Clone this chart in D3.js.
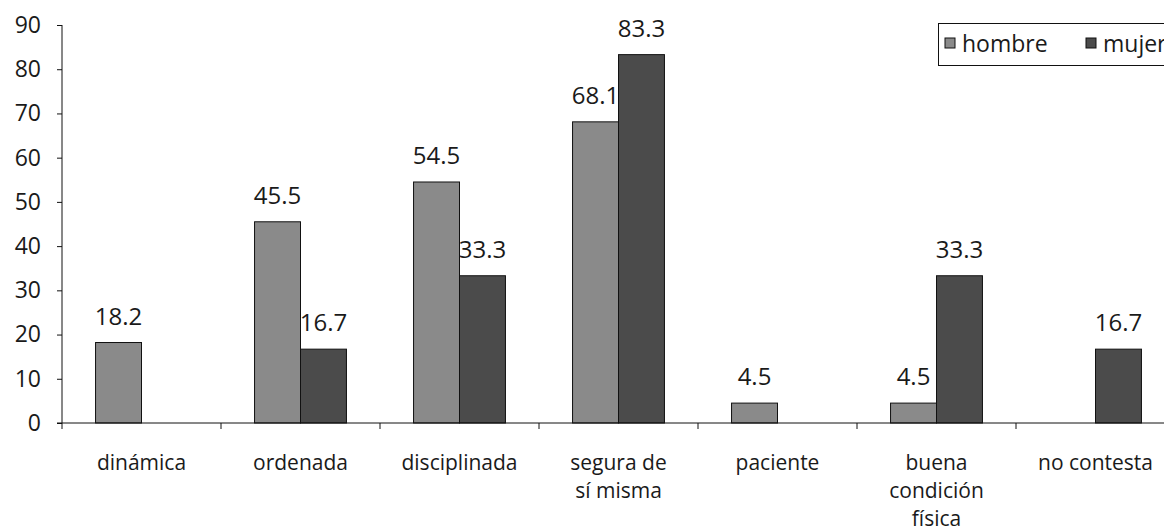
<!DOCTYPE html>
<html>
<head>
<meta charset="utf-8">
<script src="https://cdn.jsdelivr.net/npm/d3@7"></script>
<style>
  body { margin: 0; background: #fff; }
  svg { display: block; font-family: "Open Sans", sans-serif; }
</style>
</head>
<body>
<div id="chart"></div>
<script>
// Data;
var categories = ["dinámica", "ordenada", "disciplinada", "segura de sí misma", "paciente", "buena condición física", "no contesta"]
var categoryLines = [["dinámica"], ["ordenada"], ["disciplinada"], ["segura de", "sí misma"], ["paciente"], ["buena", "condición", "física"], ["no contesta"]]
var seriesNames = ["hombre", "mujer"]
var hombre = [18.2, 45.5, 54.5, 68.1, 4.5, 4.5, null]
var mujer = [null, 16.7, 33.3, 83.3, null, 33.3, 16.7]
var yTicks = [0, 10, 20, 30, 40, 50, 60, 70, 80, 90]
var seriesColors = ["#8a8a8a", "#4b4b4b"]

// Layout;
const width = 1164
const height = 531
const plotLeft = 62
const step = 159
const plotTop = 25
const plotBottom = 423

const svg = d3.select("#chart").append("svg")
    .attr("width", width)
    .attr("height", height)

const x0 = d3.scaleBand()
    .domain(categories)
    .range([plotLeft, plotLeft + step * categories.length])
    .padding(0)

const x1 = d3.scaleBand()
    .domain(seriesNames)
    .range([0, x0.bandwidth()])
    .paddingInner(0)
    .paddingOuter(0.73)

const y = d3.scaleLinear()
    .domain([0, 90])
    .range([plotBottom, plotTop])

const color = d3.scaleOrdinal().domain(seriesNames).range(seriesColors)

// Flatten to one record per bar;
var bars = []
categories.forEach((c, i) => {
    if (hombre[i] != null) bars.push({ cat: c, series: "hombre", value: hombre[i] })
    if (mujer[i] != null) bars.push({ cat: c, series: "mujer", value: mujer[i] })
})

svg.selectAll("rect.bar")
    .data(bars)
    .join("rect")
    .attr("class", "bar")
    .attr("x", d => x0(d.cat) + x1(d.series))
    .attr("y", d => y(d.value))
    .attr("width", x1.bandwidth())
    .attr("height", d => y(0) - y(d.value))
    .attr("fill", d => color(d.series))
    .attr("stroke", "#111")
    .attr("stroke-width", 1)

// Value labels above bars;
svg.selectAll("text.val")
    .data(bars)
    .join("text")
    .attr("class", "val")
    .attr("x", d => x0(d.cat) + x1(d.series) + x1.bandwidth() / 2)
    .attr("y", d => y(d.value) - 18)
    .attr("text-anchor", "middle")
    .attr("font-size", 24)
    .attr("fill", "#1a1a1a")
    .text(d => d.value.toFixed(1))

// Y axis;
const yAxis = svg.append("g")
    .attr("transform", `translate(${plotLeft},0)`)
    .call(d3.axisLeft(y).tickValues(yTicks).tickSize(5).tickPadding(16))
yAxis.select(".domain").attr("d", `M0,${plotTop}V${plotBottom}`).attr("stroke", "#111")
yAxis.selectAll(".tick line").attr("stroke", "#111")
yAxis.selectAll(".tick text")
    .attr("font-size", 23)
    .attr("font-family", "Open Sans, sans-serif")
    .attr("fill", "#1a1a1a")

// X axis with ticks between categories;
const xAxis = svg.append("g")
    .attr("transform", `translate(0,${plotBottom})`)
xAxis.append("line")
    .attr("x1", plotLeft - 5)
    .attr("x2", plotLeft + step * categories.length)
    .attr("stroke", "#111")
xAxis.selectAll("line.tick")
    .data(categories)
    .join("line")
    .attr("class", "tick")
    .attr("x1", d => x0(d))
    .attr("x2", d => x0(d))
    .attr("y1", 0)
    .attr("y2", 6)
    .attr("stroke", "#111")

// Category labels, possibly on several lines;
const catLabel = svg.selectAll("text.cat")
    .data(categories)
    .join("text")
    .attr("class", "cat")
    .attr("text-anchor", "middle")
    .attr("font-size", 21)
    .attr("fill", "#1a1a1a")
catLabel.selectAll("tspan")
    .data((d, i) => categoryLines[i].map(line => ({ line, cat: d })))
    .join("tspan")
    .attr("x", d => x0(d.cat) + x0.bandwidth() / 2)
    .attr("y", (d, j) => 470 + j * 28)
    .text(d => d.line)

// Legend (runs past the right edge, as in the source);
const legend = svg.append("g")
legend.append("rect")
    .attr("x", 938.5)
    .attr("y", 23.5)
    .attr("width", 260)
    .attr("height", 42)
    .attr("fill", "#fff")
    .attr("stroke", "#111")
const legendX = [945, 1086]
const legendItem = legend.selectAll("g.item")
    .data(seriesNames)
    .join("g")
    .attr("class", "item")
    .attr("transform", (d, i) => `translate(${legendX[i]},38)`)
legendItem.append("rect")
    .attr("width", 10)
    .attr("height", 10)
    .attr("fill", d => color(d))
    .attr("stroke", "#111")
legendItem.append("text")
    .attr("x", 17)
    .attr("y", 14)
    .attr("font-size", 23)
    .attr("fill", "#1a1a1a")
    .text(d => d)
</script>
</body>
</html>
